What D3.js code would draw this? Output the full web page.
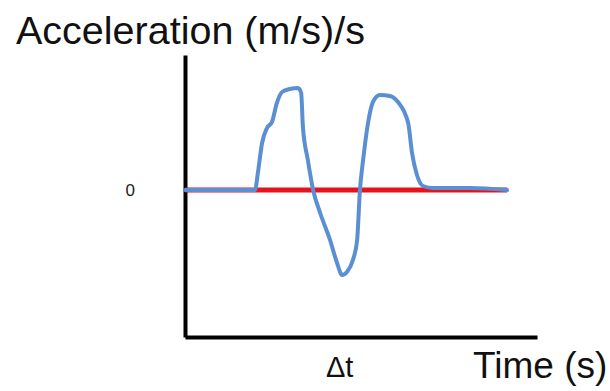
<!DOCTYPE html>
<html><head><meta charset="utf-8">
<script src="https://cdn.jsdelivr.net/npm/d3@7"></script>
<style>html,body{margin:0;padding:0;background:#fff;}svg{display:block;} .ytick text{font-size:17px !important;}</style>
</head><body>
<script>
// Data (arbitrary time units vs acceleration units)
const time = [0, 19.9, 20.7, 21.9, 23.3, 24.7, 26.1, 27.6, 29.8, 32.1, 33.0, 33.5, 34.9, 36.4, 38.4, 41.2, 43.2, 44.6, 46.0, 47.7, 48.9, 49.7, 50.6, 52.0, 53.4, 55.4, 58.2, 60.5, 63.4, 64.5, 65.9, 67.6, 70.5, 81.0, 91.5];
const accel = [0, 0, 1.7, 4.7, 6.2, 6.8, 8.7, 9.8, 10.1, 10.2, 9.7, 6.3, 3.0, 0, -2.3, -5.0, -7.3, -8.5, -8.2, -7.0, -5.0, 0, 3.0, 6.7, 8.8, 9.5, 9.4, 8.8, 6.7, 3.7, 1.5, 0.4, 0.2, 0.2, 0];
const zeroTime = [0, 91.5];
const zeroAccel = [0, 0];
const yTicks = [0];
const yTitle = "Acceleration (m/s)/s";
const xTitle = "Time (s)";
const deltaLabel = "Δt";

const W = 610, H = 391;
const svg = d3.select("body").append("svg").attr("width", W).attr("height", H);

const x = d3.scaleLinear().domain([0, 100]).range([185, 537]);
const y = d3.scaleLinear().domain([-14.7, 13.5]).range([337, 55]);

// Axes
const yAxis = d3.axisLeft(y).tickValues(yTicks).tickSize(0).tickSizeOuter(0).tickPadding(50);
const gy = svg.append("g").attr("class", "ytick").attr("transform", `translate(${x(0)},0)`).call(yAxis);
gy.attr("font-size", 17).attr("font-family", "Liberation Sans, Arial, sans-serif");
gy.select(".domain").attr("stroke", "#000").attr("stroke-width", 4);
gy.selectAll("text").attr("font-size", 17).attr("fill", "#222").attr("dy", "0.35em");

const xAxis = d3.axisBottom(x).tickValues([]).tickSize(0).tickSizeOuter(0);
const gx = svg.append("g").attr("transform", `translate(0,${y(-14.7)})`).call(xAxis);
gx.select(".domain").attr("stroke", "#000").attr("stroke-width", 4);

// Zero reference line (red)
const zeroData = zeroTime.map((t, i) => [t, zeroAccel[i]]);
svg.append("path").datum(zeroData)
  .attr("d", d3.line().x(d => x(d[0])).y(d => y(d[1])))
  .attr("fill", "none").attr("stroke", "#e8121a").attr("stroke-width", 5);

// Acceleration curve (blue)
const data = time.map((t, i) => [t, accel[i]]);
svg.append("path").datum(data)
  .attr("d", d3.line().x(d => x(d[0])).y(d => y(d[1])).curve(d3.curveMonotoneX))
  .attr("fill", "none").attr("stroke", "#5b8fd3").attr("stroke-width", 4)
  .attr("stroke-linejoin", "round").attr("stroke-linecap", "round");

// Titles
svg.append("text").attr("x", 16).attr("y", 44)
  .attr("font-family", "Liberation Sans, Arial, sans-serif").attr("font-size", 39.5).attr("fill", "#111")
  .text(yTitle);
svg.append("text").attr("x", 473).attr("y", 378)
  .attr("font-family", "Liberation Sans, Arial, sans-serif").attr("font-size", 37).attr("fill", "#111")
  .text(xTitle);
svg.append("text").attr("x", 326).attr("y", 377)
  .attr("font-family", "Liberation Sans, Arial, sans-serif").attr("font-size", 29).attr("fill", "#111")
  .text(deltaLabel);
</script>
</body></html>
